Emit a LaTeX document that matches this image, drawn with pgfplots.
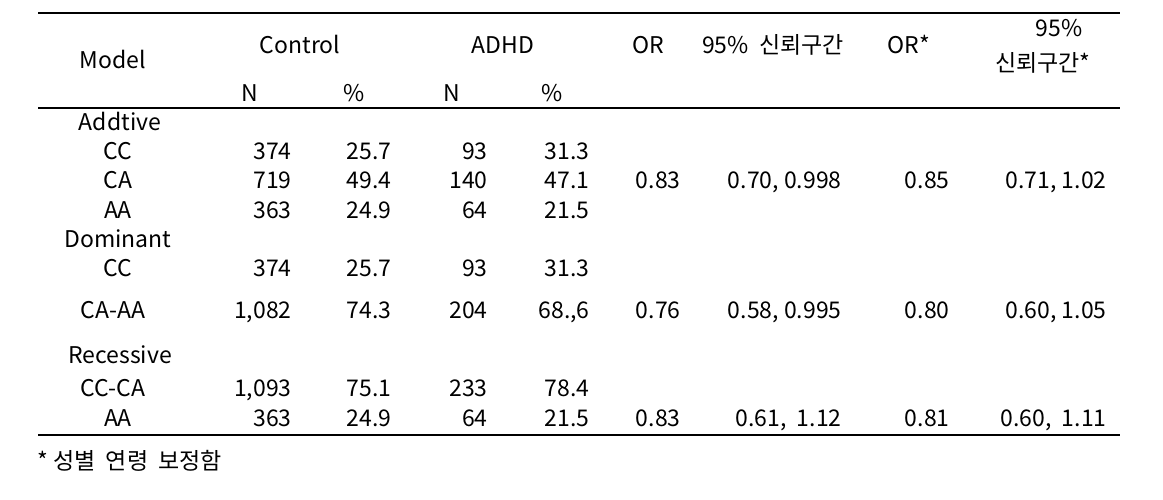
\documentclass[border=0pt]{standalone}
\usepackage{fontspec}
\setmainfont{Noto Sans CJK KR}
\usepackage{pgfplots}
\usepackage{pgfplotstable}
\pgfplotsset{compat=1.18}

% header cells, centred (x, y in pixels of the page)
\pgfplotstableread[col sep=semicolon]{
x;y;t
113;62;Model
300;47;Control
503;47;ADHD
250;95;N
354;95;{\%}
452;95;N
552;95;{\%}
648;47;OR
773;47;{95\%\ \ 신뢰구간}
909;47;OR*
1059;30;{95\%}
1043;65;신뢰구간*
120;124;Addtive
118;153;CC
118;182;CA
118;212;AA
118;241;Dominant
118;270;CC
113;312;CA-AA
120;357;Recessive
113;390;CC-CA
118;420;AA
}\headcells

% numeric cells, right aligned
\pgfplotstableread[col sep=semicolon]{
x;y;t
292;153;374
392;153;25.7
488;153;93
590;153;31.3
292;182;719
392;182;49.4
488;182;140
590;182;47.1
292;212;363
392;212;24.9
488;212;64
590;212;21.5
292;270;374
392;270;25.7
488;270;93
590;270;31.3
292;312;{1,082}
392;312;74.3
488;312;204
590;312;{68.,6}
292;390;{1,093}
392;390;75.1
488;390;233
590;390;78.4
292;420;363
392;420;24.9
488;420;64
590;420;21.5
681;182;0.83
842;182;{0.70,\ 0.998}
950;182;0.85
1107;182;{0.71,\ 1.02}
681;312;0.76
842;312;{0.58,\ 0.995}
950;312;0.80
1107;312;{0.60,\ 1.05}
681;420;0.83
842;420;{0.61,\ \ 1.12}
950;420;0.81
1107;420;{0.60,\ \ 1.11}
}\numcells

\pgfplotsset{
  cells/.style={only marks,mark=none,nodes near coords,point meta=explicit symbolic,
    every node near coord/.append style={font=\fontsize{11.5}{13}\selectfont,
      inner sep=0pt,text=black,text height=8.6pt,text depth=2.4pt}},
}

\begin{document}
\begin{tikzpicture}
\begin{axis}[
  scale only axis,width=581.5pt,height=249.5pt,
  xmin=0,xmax=1163,ymin=0,ymax=499,y dir=reverse,
  hide axis,clip=false,
]
\coordinate (pa) at (rel axis cs:0,0);
\coordinate (pb) at (rel axis cs:1,1);
% rules
\addplot[black,line width=0.8pt] coordinates {(38,13) (1120,13)};
\addplot[black,line width=0.8pt] coordinates {(38,108) (1120,108)};
\addplot[black,line width=0.8pt] coordinates {(38,435) (1120,435)};
% text
\addplot[cells,every node near coord/.append style={anchor=center}]
  table[x=x,y=y,meta=t] {\headcells};
\addplot[cells,every node near coord/.append style={anchor=east}]
  table[x=x,y=y,meta=t] {\numcells};
\addplot[cells,every node near coord/.append style={anchor=west}]
  coordinates {(37,463) [{*\ 성별\ \ 연령\ \ 보정함}]};
\end{axis}
\pgfresetboundingbox
\path (pa) rectangle (pb);
\end{tikzpicture}
\end{document}
